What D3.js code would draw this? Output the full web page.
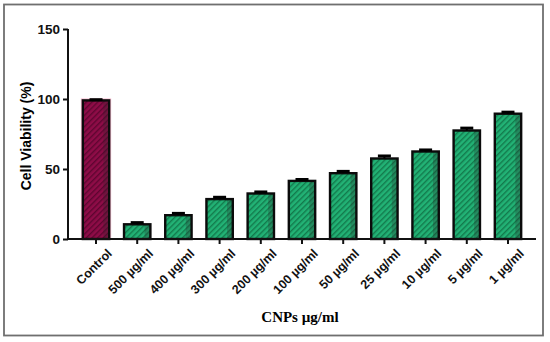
<!DOCTYPE html>
<html>
<head>
<meta charset="utf-8">
<script src="https://cdn.jsdelivr.net/npm/d3@7"></script>
<style>
  body { margin: 0; background: #fff; }
  svg { display: block; }
  .axis path, .axis line { stroke: #111; stroke-width: 2px; }
  .axis text { font-family: Arial, "Liberation Sans", sans-serif; font-weight: bold; font-size: 12.5px; fill: #111; }
  .y.axis text { font-size: 13.5px; }
</style>
</head>
<body>
<svg id="chart"></svg>
<script>
// data
const categories = ["Control", "500 \u00b5g/ml", "400 \u00b5g/ml", "300  \u00b5g/ml", "200  \u00b5g/ml",
  "100 \u00b5g/ml", "50 \u00b5g/ml", "25 \u00b5g/ml", "10 \u00b5g/ml", "5 \u00b5g/ml", "1 \u00b5g/ml"];
const viability = [99, 10.5, 17, 28.5, 32.5, 41.5, 47, 57.5, 62.5, 77.5, 89.5];
const errors = [0.5, 1.2, 1.3, 1.3, 1.1, 1, 1.3, 1.8, 1.1, 1.7, 1.1];
const yTicks = [0, 50, 100, 150];

const W = 550, H = 342;
const margin = { top: 29, right: 14, bottom: 103, left: 68 };
const width = W - margin.left - margin.right;
const height = H - margin.top - margin.bottom;

const svg = d3.select("#chart").attr("width", W).attr("height", H);

// hatch patterns
const defs = svg.append("defs");
function hatch(id, base, stripe) {
  const p = defs.append("pattern")
    .attr("id", id)
    .attr("patternUnits", "userSpaceOnUse")
    .attr("width", 4).attr("height", 4)
    .attr("patternTransform", "rotate(45)");
  p.append("rect").attr("width", 4).attr("height", 4).attr("fill", base);
  p.append("rect").attr("width", 1.4).attr("height", 4).attr("fill", stripe);
}
hatch("hatch-green", "#22b275", "#137a4c");
hatch("hatch-red", "#8e0c47", "#5e0530");

// outer frame
svg.append("rect")
  .attr("x", 4).attr("y", 4.5)
  .attr("width", 539).attr("height", 331)
  .attr("fill", "none")
  .attr("stroke", "#6f6f6f")
  .attr("stroke-width", 1.8);

const g = svg.append("g").attr("transform", `translate(${margin.left},${margin.top})`);

const x = d3.scaleBand().domain(categories).range([0, width]).padding(0.36);
const y = d3.scaleLinear().domain([0, 150]).range([height, 0]);

const data = categories.map((c, i) => ({ cat: c, v: viability[i], e: errors[i], control: i === 0 }));

// pink halo on control bar
g.selectAll(".halo")
  .data(data.filter(d => d.control))
  .join("rect")
  .attr("x", d => x(d.cat) - 2)
  .attr("y", d => y(d.v) - 2)
  .attr("width", x.bandwidth() + 4)
  .attr("height", d => height - y(d.v) + 2)
  .attr("fill", "#f9c0d5");

// bars
g.selectAll(".bar")
  .data(data)
  .join("rect")
  .attr("class", "bar")
  .attr("x", d => x(d.cat))
  .attr("y", d => y(d.v))
  .attr("width", x.bandwidth())
  .attr("height", d => height - y(d.v))
  .attr("fill", d => d.control ? "url(#hatch-red)" : "url(#hatch-green)");

// darker strip at right side of each bar
g.selectAll(".shade")
  .data(data)
  .join("rect")
  .attr("x", d => x(d.cat) + x.bandwidth() * 0.78)
  .attr("y", d => y(d.v))
  .attr("width", x.bandwidth() * 0.22)
  .attr("height", d => height - y(d.v))
  .attr("fill", "rgba(40,40,40,0.28)");

// outlines
g.selectAll(".outline")
  .data(data)
  .join("rect")
  .attr("x", d => x(d.cat))
  .attr("y", d => y(d.v))
  .attr("width", x.bandwidth())
  .attr("height", d => height - y(d.v))
  .attr("fill", "none")
  .attr("stroke", "#0b0b0b")
  .attr("stroke-width", 2.4);

// error bars (upper only)
const cx = d => x(d.cat) + x.bandwidth() / 2;
g.selectAll(".err")
  .data(data)
  .join("line")
  .attr("x1", cx).attr("x2", cx)
  .attr("y1", d => y(d.v)).attr("y2", d => y(d.v + d.e))
  .attr("stroke", "#000").attr("stroke-width", 2);
g.selectAll(".cap")
  .data(data)
  .join("line")
  .attr("x1", d => cx(d) - 6.5).attr("x2", d => cx(d) + 6.5)
  .attr("y1", d => y(d.v + d.e)).attr("y2", d => y(d.v + d.e))
  .attr("stroke", "#000").attr("stroke-width", 3);

// axes
g.append("g")
  .attr("class", "y axis")
  .call(d3.axisLeft(y).tickValues(yTicks).tickSize(5).tickPadding(3))
  .call(a => a.select(".domain").attr("d", `M0,0V${height}`));

const xAxis = g.append("g")
  .attr("class", "x axis")
  .attr("transform", `translate(0,${height})`)
  .call(d3.axisBottom(x).tickSize(5).tickSizeOuter(0));
xAxis.select(".domain").attr("d", `M0,0H${width}`);
xAxis.selectAll("text")
  .attr("text-anchor", "end")
  .attr("dx", "0.2em")
  .attr("dy", "0.6em")
  .attr("transform", "translate(4,6) rotate(-45)");

// axis titles
svg.append("text")
  .attr("transform", `translate(31,${margin.top + height / 2 + 2}) rotate(-90)`)
  .attr("text-anchor", "middle")
  .style("font-family", "Arial, 'Liberation Sans', sans-serif")
  .style("font-weight", "bold")
  .style("font-size", "14px")
  .text("Cell Viability (%)");

svg.append("text")
  .attr("x", 300).attr("y", 322)
  .attr("text-anchor", "middle")
  .style("font-family", "'Liberation Serif', 'Times New Roman', serif")
  .style("font-weight", "bold")
  .style("font-size", "15px")
  .text("CNPs \u00b5g/ml");
</script>
</body>
</html>
